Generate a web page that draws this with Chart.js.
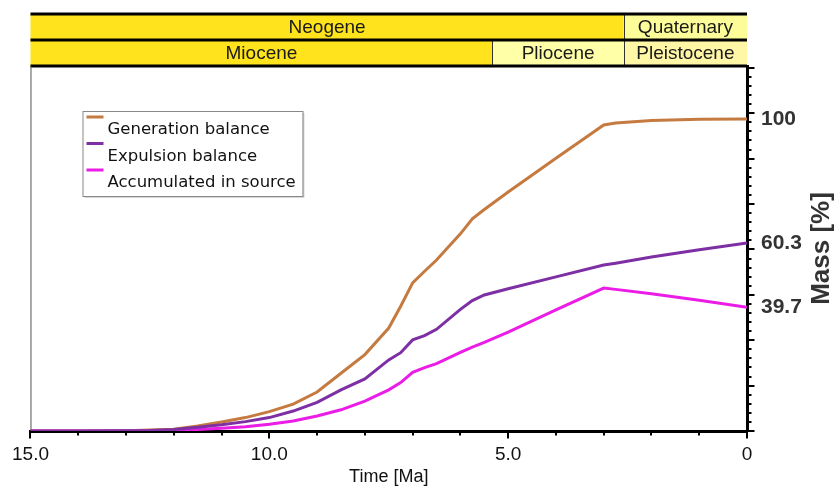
<!DOCTYPE html>
<html>
<head>
<meta charset="utf-8">
<script src="https://cdn.jsdelivr.net/npm/chart.js@4.4.1/dist/chart.umd.min.js"></script>
<style>
  html, body { margin: 0; padding: 0; background: #fff; }
  #wrap { width: 838px; height: 489px; position: relative; }
</style>
</head>
<body>
<div id="wrap"><canvas id="c"></canvas></div>
<script>
// Burial-history mass balance of the source rock, in % of total generated mass
const ageMa = [15, 14, 13, 12.5, 12, 11.5, 11, 10.5, 10, 9.5, 9, 8.5, 8, 7.5, 7.25, 7.0, 6.75, 6.5, 6.0, 5.75, 5.5, 5.0, 4.0, 3.0, 2.75, 2.0, 1.0, 0];
const generationBalance   = [0, 0, 0.1, 0.3, 0.6, 1.6, 2.9, 4.3, 6.2, 8.6, 12.5, 18.5, 24.5, 33.0, 40.0, 47.5, 51.2, 54.8, 63.2, 68.0, 71.0, 76.6, 87.4, 98.1, 98.7, 99.5, 99.9, 100];
const expulsionBalance    = [0, 0, 0.1, 0.2, 0.5, 1.2, 2.0, 3.0, 4.3, 6.4, 9.2, 13.2, 16.7, 22.8, 25.1, 29.2, 30.6, 32.6, 39.0, 41.8, 43.6, 45.6, 49.4, 53.2, 53.8, 55.8, 58.1, 60.3];
const accumulatedInSource = [0, 0, 0, 0.1, 0.2, 0.5, 0.9, 1.4, 2.2, 3.2, 4.8, 6.8, 9.6, 13.2, 15.5, 18.8, 20.3, 21.6, 25.2, 26.9, 28.4, 31.7, 38.8, 45.8, 45.4, 44.0, 41.9, 39.7];
const seriesNames = ['Generation balance', 'Expulsion balance', 'Accumulated in source'];

// Time axis labels
const timeTickAges = [15, 10, 5, 0];
const timeTickLabels = ['15.0', '10.0', '5.0', '0'];
const timeMinorStep = 1;

// Mass axis tick spacing (percent of generated mass)
const massMinorStep = 2.91;
const massMajorEvery = 5;

// Geologic time scale
const periodNames = ['Neogene', 'Quaternary'];
const periodBounds = [[15, 2.58], [2.58, 0]];
const epochNames = ['Miocene', 'Pliocene', 'Pleistocene'];
const epochBounds = [[15, 5.33], [5.33, 2.58], [2.58, 0]];

// Styles
const periodColors = ['#ffe31c', '#fcfc98'];
const epochColors = ['#ffe31c', '#ffffa8', '#fff6a6'];
const seriesColors = ['#c57a40', '#7d2fa3', '#ea1ce6'];
const labelFont = '"Liberation Sans", Arial, sans-serif';
const yAxisTitle = 'Mass [%]';

const toPoints = arr => arr.map((v, i) => ({ x: ageMa[i], y: v }));
const fmtEnd = v => Number.isInteger(v) ? String(v) : v.toFixed(1);

const geoBands = {
  id: 'geoBands',
  beforeDraw(chart) {
    const { ctx, chartArea: a, scales: { x } } = chart;
    const rows = [
      { names: periodNames, bounds: periodBounds, colors: periodColors, top: 14, bottom: 40 },
      { names: epochNames, bounds: epochBounds, colors: epochColors, top: 40, bottom: a.top }
    ];
    ctx.save();
    rows.forEach(r => {
      r.bounds.forEach((b, i) => {
        const x0 = x.getPixelForValue(b[0]);
        const x1 = x.getPixelForValue(b[1]);
        ctx.fillStyle = r.colors[i];
        ctx.fillRect(x0, r.top, x1 - x0, r.bottom - r.top);
        if (i > 0) {
          ctx.strokeStyle = '#333';
          ctx.lineWidth = 1;
          ctx.beginPath();
          ctx.moveTo(Math.round(x0) + 0.5, r.top);
          ctx.lineTo(Math.round(x0) + 0.5, r.bottom);
          ctx.stroke();
        }
        ctx.fillStyle = '#1a1a1a';
        ctx.font = '19px ' + labelFont;
        ctx.textAlign = 'center';
        ctx.textBaseline = 'middle';
        ctx.fillText(r.names[i], (x0 + x1) / 2, (r.top + r.bottom) / 2 + 1);
      });
    });
    ctx.strokeStyle = '#000';
    ctx.lineWidth = 3;
    [14, 40, a.top].forEach(y => {
      ctx.beginPath();
      ctx.moveTo(a.left, y);
      ctx.lineTo(a.right, y);
      ctx.stroke();
    });
    // thin left frame of the plot
    ctx.strokeStyle = '#555';
    ctx.lineWidth = 1;
    ctx.beginPath();
    ctx.moveTo(a.left + 0.5, a.top);
    ctx.lineTo(a.left + 0.5, a.bottom);
    ctx.stroke();
    ctx.restore();
  },
  afterDraw(chart) {
    const { ctx, chartArea: a, scales: { x, y } } = chart;
    ctx.save();
    ctx.strokeStyle = '#000';
    ctx.lineWidth = 2;
    // time axis tick marks
    for (let t = 0; t <= 15; t += timeMinorStep) {
      const px = Math.round(x.getPixelForValue(t));
      const len = timeTickAges.includes(t) ? 6 : 3;
      ctx.beginPath();
      ctx.moveTo(px, a.bottom);
      ctx.lineTo(px, a.bottom + 1.5 + len);
      ctx.stroke();
    }
    // mass axis tick marks
    for (let k = 0; k * massMinorStep <= y.max; k++) {
      const py = Math.round(y.getPixelForValue(k * massMinorStep));
      const len = k % massMajorEvery === 0 ? 6 : 3;
      ctx.beginPath();
      ctx.moveTo(a.right, py);
      ctx.lineTo(a.right + 1.5 + len, py);
      ctx.stroke();
    }
    // mass axis title, reading upwards
    ctx.translate(822, (a.top + a.bottom) / 2);
    ctx.rotate(-Math.PI / 2);
    ctx.fillStyle = '#333';
    ctx.font = 'bold 26px "Liberation Sans", Arial, sans-serif';
    ctx.textAlign = 'center';
    ctx.textBaseline = 'middle';
    ctx.fillText(yAxisTitle, 0, 0);
    ctx.restore();

    // legend box
    ctx.save();
    const lx = a.left + 52, ly = a.top + 45, lw = 220, lh = 85;
    ctx.fillStyle = '#d8d8d8';
    ctx.fillRect(lx + 2, ly + 2, lw, lh);
    ctx.fillStyle = '#fff';
    ctx.fillRect(lx, ly, lw, lh);
    ctx.strokeStyle = '#888';
    ctx.lineWidth = 1;
    ctx.strokeRect(lx + 0.5, ly + 0.5, lw, lh);
    ctx.font = '16.5px "DejaVu Sans", Verdana, sans-serif';
    ctx.textAlign = 'left';
    ctx.textBaseline = 'alphabetic';
    chart.data.datasets.forEach((ds, i) => {
      const rowY = ly + 6 + i * 26.5;
      ctx.strokeStyle = ds.borderColor;
      ctx.lineWidth = 3;
      ctx.beginPath();
      ctx.moveTo(lx + 4, rowY);
      ctx.lineTo(lx + 21, rowY);
      ctx.stroke();
      ctx.fillStyle = '#111';
      ctx.fillText(ds.label, lx + 25, rowY + 17);
    });
    ctx.restore();
  }
};

const datasets = [generationBalance, expulsionBalance, accumulatedInSource].map((arr, i) => ({
  label: seriesNames[i],
  data: toPoints(arr),
  borderColor: seriesColors[i],
  backgroundColor: seriesColors[i],
  borderWidth: 3,
  pointRadius: 0,
  tension: 0,
  fill: false,
  order: [2, 0, 1][i]
}));

new Chart(document.getElementById('c'), {
  type: 'line',
  data: { datasets },
  plugins: [geoBands],
  options: {
    responsive: true,
    maintainAspectRatio: false,
    animation: false,
    layout: { padding: { top: 66, left: 30, right: 0, bottom: 0 } },
    plugins: { legend: { display: false }, tooltip: { enabled: false } },
    scales: {
      x: {
        type: 'linear',
        reverse: true,
        min: 0,
        max: 15,
        afterFit(s) { s.height = 58; },
        afterBuildTicks(s) { s.ticks = timeTickAges.map(v => ({ value: v })); },
        grid: { drawOnChartArea: false, drawTicks: false },
        border: { display: true, color: '#000', width: 3 },
        ticks: {
          autoSkip: false,
          maxRotation: 0,
          padding: 12,
          color: '#111',
          font: { family: labelFont, size: 19 },
          callback: v => timeTickLabels[timeTickAges.indexOf(v)] ?? ''
        },
        title: {
          display: true,
          text: 'Time [Ma]',
          color: '#111',
          font: { family: labelFont, size: 18 },
          padding: { top: 0, bottom: 1 }
        }
      },
      y: {
        type: 'linear',
        position: 'right',
        min: 0,
        max: 117,
        afterFit(s) { s.width = 91; },
        afterBuildTicks(s) {
          s.ticks = [generationBalance, expulsionBalance, accumulatedInSource]
            .map(arr => ({ value: arr[arr.length - 1] }));
        },
        grid: { drawOnChartArea: false, drawTicks: false },
        border: { display: true, color: '#000', width: 3 },
        ticks: {
          autoSkip: false,
          padding: 14,
          color: '#333',
          font: { family: '"Liberation Sans", Arial, sans-serif', size: 21, weight: 'bold' },
          callback: v => fmtEnd(v)
        },
        title: { display: false }
      }
    }
  }
});
</script>
</body>
</html>
